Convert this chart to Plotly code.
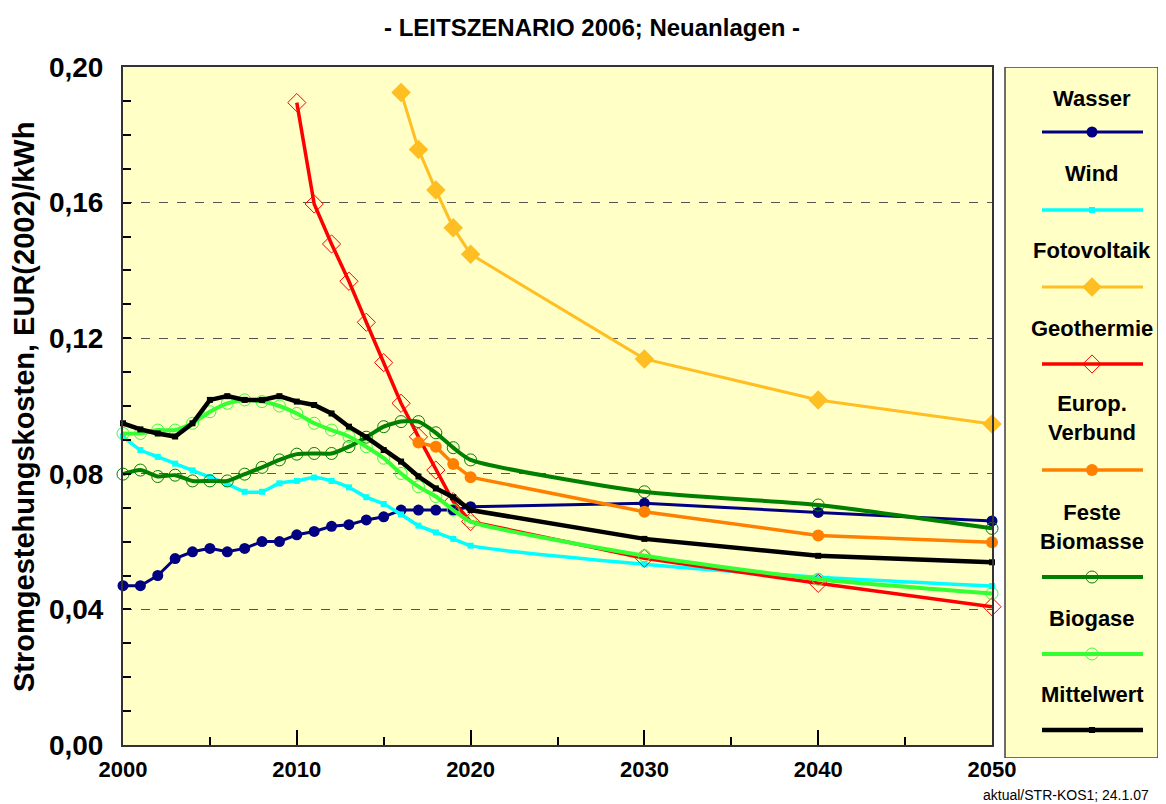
import plotly.graph_objects as go

# ---------------- data ----------------
years_full = list(range(2000, 2021)) + [2030, 2040, 2050]

wasser = [0.047, 0.047, 0.050, 0.055, 0.057, 0.058, 0.057, 0.058, 0.060, 0.060,
          0.062, 0.063, 0.0645, 0.065, 0.0664, 0.0673, 0.0693, 0.0693, 0.0693, 0.0693,
          0.0703, 0.0713, 0.0686, 0.0661]
wind = [0.091, 0.087, 0.085, 0.083, 0.081, 0.079, 0.077, 0.0747, 0.0747, 0.0772,
        0.0779, 0.0789, 0.0779, 0.0760, 0.0731, 0.0711, 0.0680, 0.0647, 0.0627, 0.0608,
        0.0588, 0.0533, 0.0495, 0.0469]
years_foto = [2016, 2017, 2018, 2019, 2020, 2030, 2040, 2050]
foto = [0.1925, 0.1757, 0.1637, 0.1526, 0.1448, 0.1139, 0.1018, 0.0947]
years_geo = list(range(2010, 2021)) + [2030, 2040, 2050]
geo = [0.1895, 0.1596, 0.1478, 0.1368, 0.1247, 0.1128, 0.1008, 0.0909, 0.0811, 0.0718,
       0.0659, 0.0551, 0.0477, 0.0408]
years_eu = [2017, 2018, 2019, 2020, 2030, 2040, 2050]
europ = [0.0892, 0.0880, 0.0829, 0.0790, 0.0688, 0.0618, 0.0598]
feste = [0.0799, 0.0811, 0.0792, 0.0796, 0.0779, 0.0779, 0.0779, 0.0799, 0.0819, 0.0841,
         0.0858, 0.0860, 0.0860, 0.0880, 0.0908, 0.0939, 0.0954, 0.0954, 0.0921, 0.0877,
         0.0841, 0.0747, 0.0708, 0.0639]
biogas = [0.0919, 0.0919, 0.0929, 0.0929, 0.0949, 0.0983, 0.1008, 0.1018, 0.1013, 0.1000,
          0.0978, 0.0949, 0.0929, 0.0910, 0.0880, 0.0846, 0.0801, 0.0762, 0.0733, 0.0693,
          0.0659, 0.0558, 0.0489, 0.0447]
mittel = [0.0949, 0.0931, 0.0919, 0.0910, 0.0949, 0.1018, 0.1029, 0.1018, 0.1018, 0.1029,
          0.1013, 0.1003, 0.0978, 0.0939, 0.0908, 0.0870, 0.0836, 0.0792, 0.0757, 0.0731,
          0.0693, 0.0608, 0.0558, 0.0539]

series_names = ["Wasser", "Wind", "Fotovoltaik", "Geothermie", "Europ.<br>Verbund",
                "Feste<br>Biomasse", "Biogase", "Mittelwert"]
y_ticks = [0.0, 0.04, 0.08, 0.12, 0.16, 0.20]
x_ticks = [2000, 2010, 2020, 2030, 2040, 2050]

# ---------------- styles ----------------
FONT = "Liberation Sans, Arial, sans-serif"
BG = "#FFFFC6"
styles = [
    dict(color="#000080", symbol="circle", size=11, lw=3, shape="linear", mline=None),
    dict(color="#00FFFF", symbol="square", size=6, lw=3.5, shape="spline", mline=None),
    dict(color="#FFBE22", symbol="diamond", size=15, lw=3, shape="linear", mline=None),
    dict(color="#FF0000", symbol="diamond-open", size=14, lw=3.5, shape="linear", mline=1),
    dict(color="#FF8000", symbol="circle", size=12, lw=3.5, shape="linear", mline=None),
    dict(color="#008000", symbol="circle-open", size=12, lw=4, shape="spline", mline=1),
    dict(color="#33FF33", symbol="circle-open", size=12, lw=4, shape="spline", mline=1),
    dict(color="#000000", symbol="square", size=6, lw=4.5, shape="linear", mline=None),
]
data = [(years_full, wasser), (years_full, wind), (years_foto, foto), (years_geo, geo),
        (years_eu, europ), (years_full, feste), (years_full, biogas), (years_full, mittel)]

fig = go.Figure()
for (xs, ys), st, nm in zip(data, styles, series_names):
    marker = dict(symbol=st["symbol"], size=st["size"], color=st["color"])
    if st["mline"]:
        marker["line"] = dict(width=st["mline"], color=st["color"])
    line = dict(color=st["color"], width=st["lw"], shape=st["shape"])
    if st["shape"] == "spline":
        line["smoothing"] = 0.6
    fig.add_trace(go.Scatter(x=xs, y=ys, mode="lines+markers", name=nm.replace("<br>", " "),
                             line=line, marker=marker, showlegend=False, cliponaxis=False))

# ---------------- manual legend (own axes, pixel-like coords) ----------------
W, H = 1166, 804
ml, mr, mt, mb = 123, 8, 67, 46
pw = W - ml - mr
ph = H - mt - mb
plot_right = 992
plot_bottom = 745

leg_left, leg_right, leg_top, leg_bottom = 1005, 1158, 67, 758
text_y = [98, 173, 250, 328, 418, 527, 618, 694]
line_y = [132, 210, 287, 364, 470, 577, 654, 730]
lx0, lx1, lxc = 1042, 1143, 1092

for st, nm, ty, ly in zip(styles, series_names, text_y, line_y):
    fig.add_trace(go.Scatter(x=[lx0, lx1], y=[ly, ly], mode="lines", xaxis="x2", yaxis="y2",
                             line=dict(color=st["color"], width=st["lw"]),
                             showlegend=False, hoverinfo="skip"))
    marker = dict(symbol=st["symbol"], size=st["size"], color=st["color"])
    if st["mline"]:
        marker["line"] = dict(width=1, color=st["color"])
    fig.add_trace(go.Scatter(x=[lxc], y=[ly], mode="markers", xaxis="x2", yaxis="y2",
                             marker=marker, showlegend=False, hoverinfo="skip"))
    fig.add_annotation(x=lxc, y=ty, xref="x2", yref="y2", text="<b>%s</b>" % nm,
                       xanchor="center", yanchor="middle",
                       showarrow=False, font=dict(family=FONT, size=22, color="black"),
                       align="center")

# legend box with shadow
fig.add_shape(type="rect", xref="x2", yref="y2", x0=leg_left + 3, x1=leg_right + 3,
              y0=leg_top + 3, y1=leg_bottom + 3, fillcolor="#808080", line=dict(width=0),
              layer="below")
fig.add_shape(type="rect", xref="x2", yref="y2", x0=leg_left, x1=leg_right,
              y0=leg_top, y1=leg_bottom, fillcolor=BG, line=dict(color="#404040", width=1.5),
              layer="below")

# plot-area background
fig.add_shape(type="rect", xref="x domain", yref="y domain", x0=0, x1=1, y0=0, y1=1,
              fillcolor=BG, line=dict(width=0), layer="below")

fig.update_layout(
    width=W, height=H, autosize=False, showlegend=False,
    margin=dict(l=ml, r=mr, t=mt, b=mb, pad=0, autoexpand=False),
    paper_bgcolor="white", plot_bgcolor="rgba(0,0,0,0)",
    separators=",.",
    font=dict(family=FONT, color="black"),
    xaxis=dict(domain=[0, (plot_right - ml) / pw], range=[2000, 2050], automargin=False,
               tickvals=x_ticks, ticktext=[str(v) for v in x_ticks],
               ticks="inside", ticklen=15, tickwidth=1.5, tickcolor="black",
               minor=dict(dtick=5, tick0=2000, ticks="inside", ticklen=8, tickwidth=1.5,
                          tickcolor="black", showgrid=False),
               showgrid=False, zeroline=False,
               showline=True, linecolor="#333333", linewidth=2, mirror=True,
               ticklabelstandoff=4,
               tickfont=dict(family=FONT, size=22, color="black", weight="bold")),
    yaxis=dict(domain=[(leg_bottom - plot_bottom) / ph, 1], range=[0, 0.20], automargin=False,
               tickvals=y_ticks, tickformat=".2f",
               ticks="inside", ticklen=8, tickwidth=1.5, tickcolor="black",
               minor=dict(dtick=0.01, tick0=0, ticks="inside", ticklen=8, tickwidth=1.5,
                          tickcolor="black", showgrid=False),
               showgrid=True, gridcolor="#555555", gridwidth=1, griddash="dash",
               zeroline=False,
               showline=True, linecolor="#333333", linewidth=2, mirror=True,
               ticklabelstandoff=12,
               tickfont=dict(family=FONT, size=28, color="black", weight="bold")),
    xaxis2=dict(domain=[0, 1], range=[ml, W - mr], visible=False, fixedrange=True,
                anchor="y2", automargin=False),
    yaxis2=dict(domain=[0, 1], range=[H - mb, mt], visible=False, fixedrange=True,
                anchor="x2", automargin=False),
)

# title, axis title, footer
fig.add_annotation(x=(592 - ml) / pw, y=1 + (67 - 27) / ph, xref="paper", yref="paper",
                   xanchor="center", yanchor="middle",
                   text="<b>- LEITSZENARIO 2006; Neuanlagen -</b>", showarrow=False,
                   font=dict(family=FONT, size=24, color="black"))
fig.add_annotation(x=(24 - ml) / pw, y=((H - mb) - 407) / ph, xref="paper", yref="paper",
                   xanchor="center", yanchor="middle",
                   text="<b>Stromgestehungskosten, EUR(2002)/kWh</b>", textangle=-90,
                   showarrow=False, font=dict(family=FONT, size=29, color="black"))
fig.add_annotation(x=(1066 - ml) / pw, y=-((795 - (H - mb)) / ph), xref="paper", yref="paper",
                   xanchor="center", yanchor="middle",
                   text="aktual/STR-KOS1; 24.1.07", showarrow=False,
                   font=dict(family=FONT, size=14, color="black"))

post = ("document.documentElement.style.margin='0';document.body.style.margin='0';"
        "document.body.style.padding='0';document.body.style.overflow='hidden';")

fig.write_html("out.html", config={"displayModeBar": False}, post_script=post)
